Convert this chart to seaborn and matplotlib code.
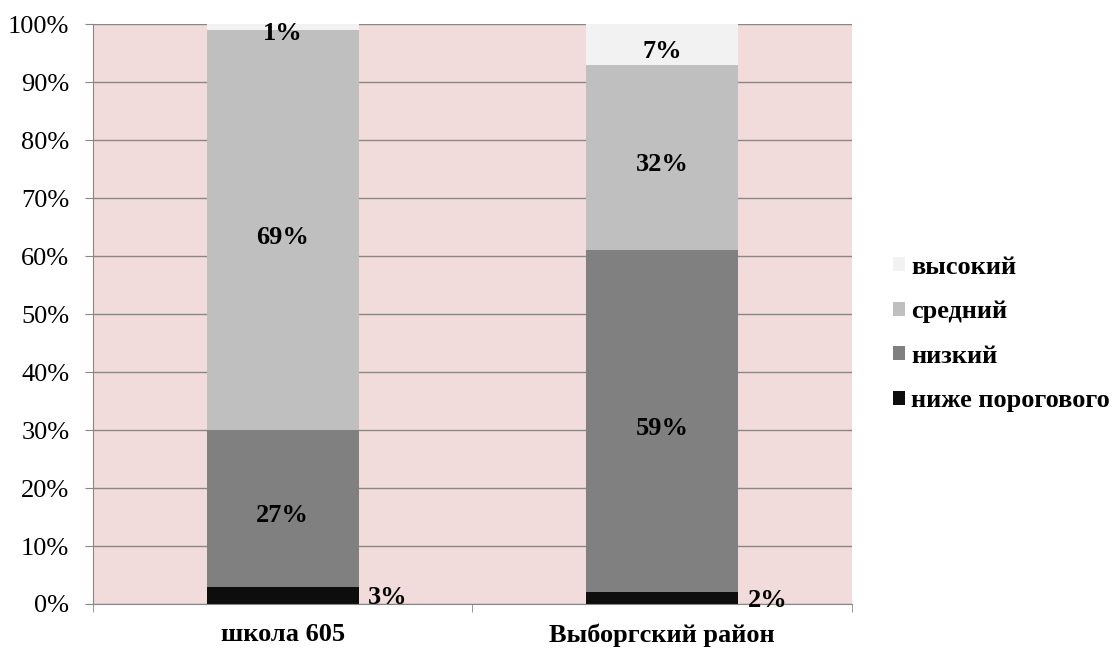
import matplotlib
matplotlib.use("Agg")
import matplotlib.pyplot as plt
import numpy as np
import seaborn as sns
from matplotlib.patches import Patch
from matplotlib.ticker import FuncFormatter

categories = ["школа 605", "Выборгский район"]
levels = ["ниже порогового", "низкий", "средний", "высокий"]
below = [3, 2]
low = [27, 59]
mid = [69, 32]
high = [1, 7]
colors = ["#0d0d0d", "#808080", "#bfbfbf", "#f2f2f2"]

sns.set_style("white")
plt.rcParams["font.family"] = ["Liberation Serif", "DejaVu Serif"]
plt.rcParams["text.color"] = "black"
plt.rcParams["xtick.color"] = "black"
plt.rcParams["ytick.color"] = "black"

series = np.array([below, low, mid, high], dtype=float)
cum = np.cumsum(series, axis=0)

fig = plt.figure(figsize=(11.18, 6.51), dpi=100)
ax = fig.add_axes([0.0832, 0.0722, 0.6788, 0.8908])
ax.set_facecolor("#f2dcdb")

# stack by drawing cumulative totals from the top down
for i in range(len(levels) - 1, -1, -1):
    sns.barplot(x=categories, y=cum[i], color=colors[i], width=0.4,
                saturation=1, linewidth=0, ax=ax, zorder=3)

ax.set_ylim(0, 100)
ax.set_xlim(-0.5, 1.5)
ax.set_yticks(np.arange(0, 101, 10))
ax.yaxis.set_major_formatter(FuncFormatter(lambda v, p: f"{v:.0f}%"))
ax.grid(axis="y", color="#878787", linewidth=1, zorder=1)
ax.set_axisbelow(True)
for s in ["top", "right"]:
    ax.spines[s].set_visible(False)
for s in ["left", "bottom"]:
    ax.spines[s].set_color("#878787")
    ax.spines[s].set_zorder(4)
ax.tick_params(axis="y", labelsize=19, length=6, color="#878787", pad=11,
               left=True, direction="out", labelcolor="black")
ax.set_xticks([0, 1])
ax.set_xticklabels(categories, fontsize=19, fontweight="bold")
ax.tick_params(axis="x", length=0, pad=14, labelcolor="black")
ax.set_xticks([-0.5, 0.5, 1.5], minor=True)
ax.tick_params(axis="x", which="minor", length=6, color="#878787",
               direction="out", bottom=True)
ax.set_xlabel("")

# data labels
for j in range(len(categories)):
    for i in range(len(levels)):
        v = series[i, j]
        top = cum[i, j]
        base = top - v
        if i == 0:
            ax.text(j + 0.225, base + v / 2, f"{v:.0f}%", ha="left",
                    va="center_baseline", fontsize=19, fontweight="bold", zorder=5)
        elif v < 3:
            ax.text(j, top - 1.2, f"{v:.0f}%", ha="center", va="center_baseline",
                    fontsize=19, fontweight="bold", zorder=5)
        else:
            ax.text(j, base + v / 2 - 0.8, f"{v:.0f}%", ha="center",
                    va="center_baseline", fontsize=19, fontweight="bold", zorder=5)

handles = [Patch(facecolor=colors[i], edgecolor="none", label=levels[i])
           for i in range(len(levels) - 1, -1, -1)]
fig.legend(handles=handles, loc="center left", bbox_to_anchor=(0.799, 0.487),
           frameon=False, handlelength=0.45, handleheight=0.45,
           handletextpad=0.22, labelspacing=0.82, borderpad=0, borderaxespad=0,
           prop={"size": 19, "weight": "bold"})

fig.savefig("out.png", dpi=100)
